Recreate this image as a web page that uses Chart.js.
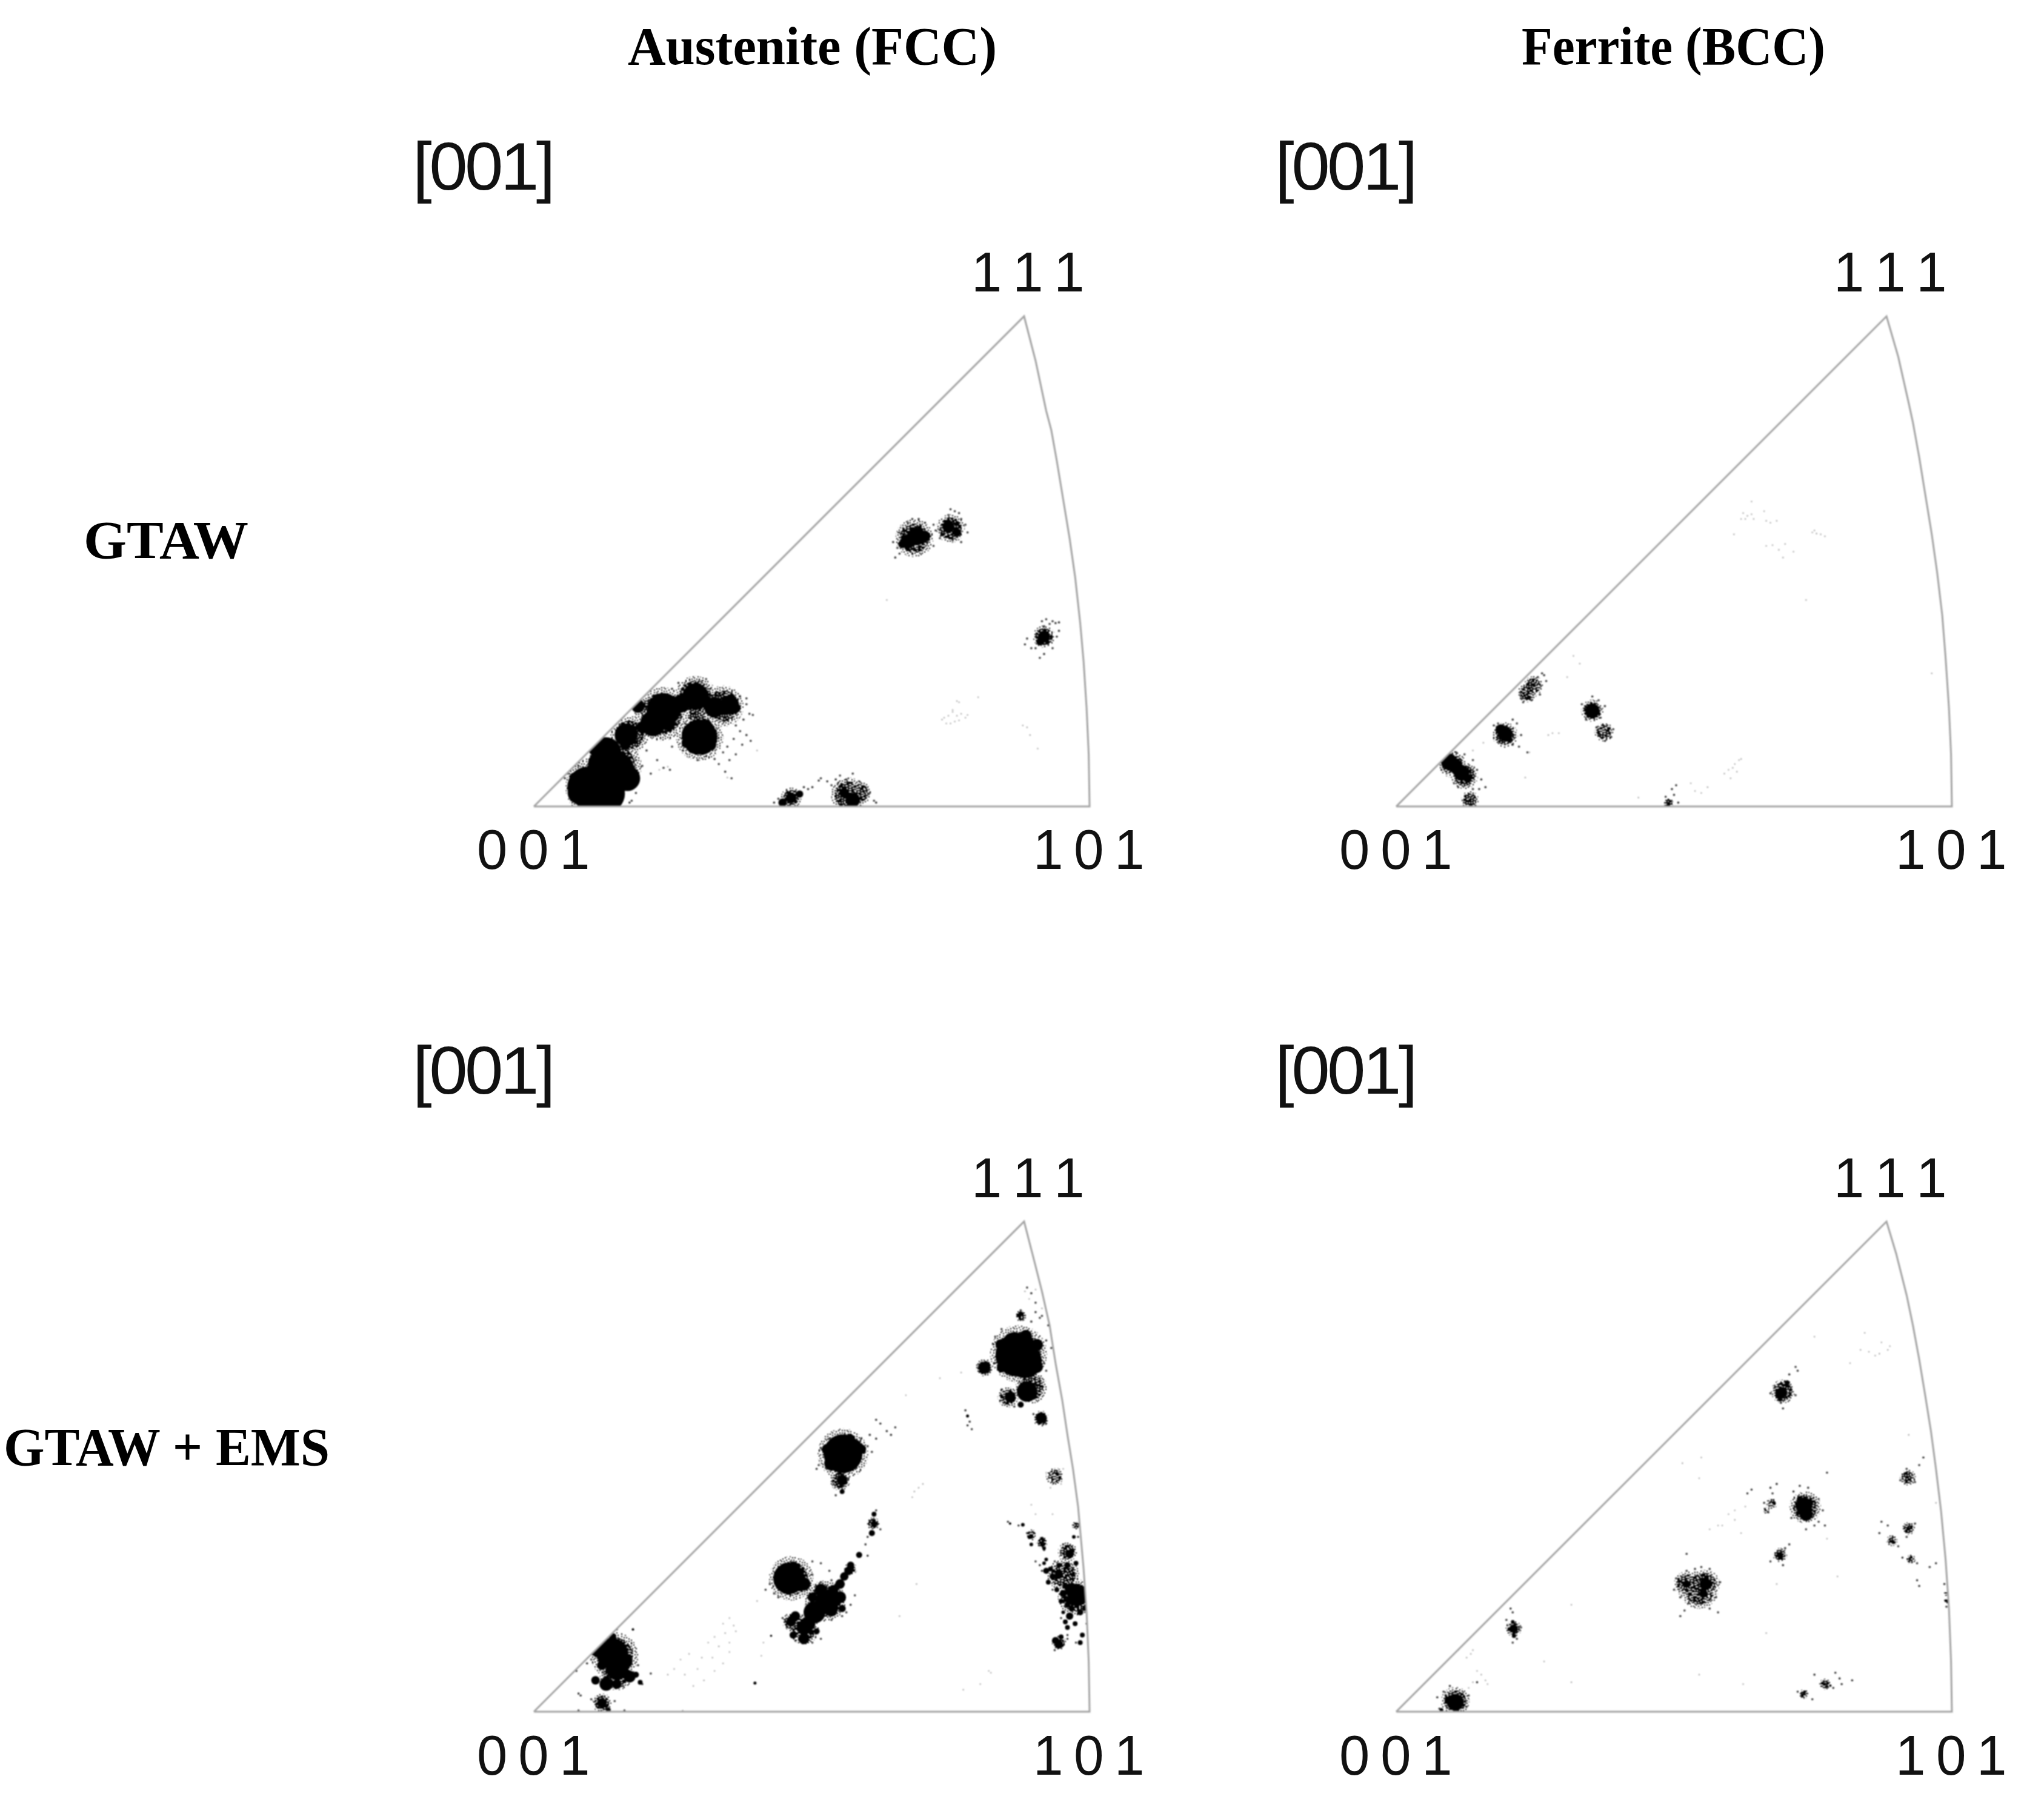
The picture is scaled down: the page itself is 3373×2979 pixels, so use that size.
<!DOCTYPE html>
<html><head><meta charset="utf-8">
<script src="https://cdn.jsdelivr.net/npm/chart.js@4"></script>
<style>
html,body{margin:0;padding:0;background:#fff;width:3373px;height:2979px;overflow:hidden}
canvas{position:absolute;filter:blur(.9px)}
.t{position:absolute;white-space:pre;transform-origin:0 50%;line-height:1;color:#111}
.s{font-family:"Liberation Serif",serif;font-weight:bold;color:#000}
.h{font-family:"Liberation Sans",sans-serif;letter-spacing:-.04em}
</style></head><body>
<script>
const columnTitles=["Austenite (FCC)","Ferrite (BCC)"];
const rowTitles=["GTAW","GTAW + EMS"];
const directionLabel="[001]";
const cornerLabels=["1 1 1","0 0 1","1 0 1"];

// Boundaries of the four inverse pole figures
const tlEdge=[[45,1335],[1352,1335],[1350,1200],[1345,1080],[1338,960],[1330,860],[1318,740],[1305,640],[1290,540],[1275,440],[1262,360],[1250,310],[1225,180],[1198,65],[45,1335]];
const trEdge=[[22,1335],[1348,1335],[1346,1200],[1341,1080],[1333,950],[1325,840],[1313,730],[1300,630],[1285,530],[1270,430],[1255,340],[1245,290],[1220,170],[1192,65],[22,1335]];
const blEdge=[[45,1323],[1352,1323],[1350,1190],[1345,1060],[1338,945],[1325,780],[1313,680],[1300,590],[1288,500],[1272,400],[1258,300],[1240,210],[1222,130],[1198,25],[45,1323]];
const brEdge=[[22,1323],[1348,1323],[1346,1190],[1341,1050],[1333,920],[1322,790],[1310,680],[1298,580],[1285,490],[1270,390],[1255,300],[1240,220],[1215,110],[1192,25],[22,1323]];

// Orientation clusters: [x, y, spread]
const tlCore=[[172,1285,34],[215,1302,31],[150,1300,18],[215,1195,25],[205,1225,23],[240,1240,29],[265,1262,21],[262,1150,19],[290,1075,11],[350,1085,28],[325,1120,21],[375,1075,16],[425,1050,22],[392,1068,15],[470,1078,17],[505,1072,16],[435,1155,29],[415,1145,15],[460,1175,10],[405,1170,9],[450,1125,10],[300,1130,10],[360,1120,12],[260,1175,9],[190,1185,12],[275,1270,10],[140,1260,8],[210,1265,20],[520,1080,8],[450,1060,9],[630,1325,7],[650,1313,9],[670,1303,6],[775,1300,8],[795,1318,12],[925,648,12],[945,635,15],[965,635,9],[912,655,7],[1020,610,10],[1040,625,7],[1005,630,3],[1245,895,10],[1235,908,6]];
const tlHalo=[[190,1285,38],[235,1230,34],[270,1150,24],[345,1095,34],[425,1050,26],[490,1075,26],[435,1155,30],[650,1313,13],[785,1305,22],[810,1300,15],[940,640,24],[1025,615,18],[1245,895,14],[430,1100,14]];
const tlSpeck=[[545,1070],[552,1095],[560,1098],[538,1110],[520,1125],[530,1140],[545,1150],[555,1165],[535,1175],[515,1160],[500,1180],[490,1195],[520,1200],[505,1215],[480,1225],[495,1245],[510,1262],[470,1212],[450,1205],[430,1215],[415,1195],[395,1190],[370,1180],[350,1235],[365,1240],[335,1215],[310,1190],[320,1250],[300,1230],[285,1215],[275,1320],[285,1300],[270,1325],[125,1250],[135,1235],[150,1230],[118,1262],[440,1010],[450,1005],[460,1030],[400,1020],[370,1030],[385,1015],[530,1050],[545,1055],[510,1040],[480,1045],[390,1100],[410,1105],[420,1095],[440,1100],[455,1110],[400,1120],[720,1262],[735,1270],[745,1280],[765,1255],[780,1265],[795,1250],[810,1270],[825,1285],[835,1300],[845,1320],[850,1325],[700,1285],[690,1290],[680,1285],[620,1315],[610,1325],[660,1295],[760,1275],[800,1285],[715,1268],[755,1265],[905,680],[895,690],[900,665],[890,650],[905,625],[925,600],[935,590],[950,590],[965,600],[985,605],[985,660],[960,665],[935,680],[1025,565],[1035,570],[1045,575],[1020,580],[1050,590],[1060,605],[1065,625],[1050,650],[1030,645],[1000,640],[990,620],[1240,855],[1250,850],[1265,855],[1280,858],[1272,860],[1258,862],[1245,868],[1205,900],[1215,925],[1200,915],[1235,950],[1245,940],[1265,925],[1275,895],[1280,880],[1225,925]];
const tlFaint=[[1040,1062],[1045,1065],[1010,1105],[1020,1100],[1030,1090],[1040,1100],[1050,1095],[1060,1105],[1025,1120],[1035,1115],[1015,1120],[1030,1085],[1065,1098],[1195,1125],[1205,1130],[1212,1150],[1090,1052],[875,800],[1005,1110],[1045,1112],[1230,1185],[340,1240],[360,1232],[500,1260],[570,1190]];

const trCore=[[148,1220,13],[163,1230,12],[178,1248,13],[192,1262,7],[272,1136,9],[282,1148,12],[292,1160,5],[490,1087,12],[350,1020,3],[672,1328,3],[198,1320,2]];
const trHalo=[[155,1225,17],[185,1255,17],[198,1318,11],[282,1150,16],[335,1040,12],[350,1022,12],[490,1087,14],[518,1142,12],[672,1326,6]];
const trSpeck=[[150,1190],[165,1195],[185,1200],[205,1215],[130,1240],[215,1240],[225,1265],[220,1290],[170,1285],[205,1290],[160,1275],[235,1285],[310,1120],[300,1175],[315,1180],[255,1125],[265,1120],[320,1150],[335,1195],[300,1110],[370,990],[375,995],[360,1000],[380,1010],[365,1045],[345,1060],[325,1065],[320,1055],[490,1050],[505,1060],[520,1075],[510,1105],[475,1110],[465,1070],[515,1125],[540,1135],[535,1155],[520,1165],[505,1150],[500,1130],[685,1305],[665,1310],[695,1325],[680,1290],[690,1280]];
const trFaint=[[850,575],[860,582],[870,578],[845,590],[855,590],[875,590],[870,545],[900,570],[905,595],[915,600],[930,595],[828,630],[1015,625],[1025,628],[1035,630],[1020,620],[1045,635],[905,660],[920,658],[935,670],[945,690],[950,655],[970,675],[840,1215],[845,1212],[830,1225],[815,1240],[805,1250],[820,1262],[825,1235],[835,1245],[725,1275],[735,1295],[750,1300],[765,1285],[600,1312],[460,965],[445,945],[430,1000],[395,1145],[410,1145],[385,1150],[340,1195],[330,1260],[230,1170],[205,1190],[185,1220],[1300,990],[1000,800],[745,515]];

const blCore=[[1182,378,36],[1200,395,28],[1160,385,20],[1175,350,20],[1142,350,8],[1228,352,10],[1228,410,10],[1145,412,8],[1202,328,10],[1105,412,10],[1205,475,17],[1165,490,9],[1190,510,5],[1238,545,9],[1190,270,4],[1065,540,2.5],[772,640,32],[745,665,12],[770,710,9],[770,740,4],[800,620,11],[735,628,9],[815,628,8],[788,602,9],[845,800,4],[845,825,5],[840,850,5],[810,908,5],[785,950,7],[765,985,8],[790,935,6],[775,965,7],[750,1000,8],[720,1000,10],[700,1020,8],[645,970,26],[680,985,11],[618,975,6],[655,938,8],[735,1030,20],[705,1060,18],[680,1100,12],[680,1130,9],[650,1085,8],[765,1020,10],[660,1070,8],[690,1090,12],[655,1120,6],[710,1110,5],[745,1055,10],[770,1050,6],[230,1170,26],[215,1145,10],[240,1210,18],[215,1250,11],[270,1230,10],[195,1165,9],[295,1245,4],[205,1200,8],[260,1190,12],[285,1225,5],[190,1240,7],[240,1250,8],[230,1125,6],[205,1300,8],[220,1318,4],[1325,1015,17],[1310,1000,11],[1305,905,7],[1280,960,7],[1305,1070,6],[1280,1145,7],[1300,1100,4],[1335,1120,4],[1240,880,3],[1215,860,3],[1195,828,3],[1165,825,2],[1260,945,4],[1250,920,3],[1285,1030,4],[1300,1040,5],[1295,990,5],[1340,1050,4],[1250,950,5],[1265,965,5],[1245,930,3],[1275,1000,4],[1290,1010,6],[1280,935,4],[1300,935,5],[1310,1050,5],[1318,1090,4],[1295,1085,4],[1272,1135,6],[1285,1125,4],[1330,1140,4],[1210,860,3],[1215,880,3],[1240,865,3],[1245,890,3],[1320,930,4],[1315,860,3],[1290,1060,3],[1305,1025,6],[1330,1060,5],[1255,980,4],[565,1247,2.5],[603,1122,1.8],[278,1105,2]];
const blHalo=[[1185,375,36],[1215,465,20],[1160,490,13],[1238,547,10],[1190,275,7],[1105,412,11],[772,640,32],[765,710,13],[843,825,8],[790,945,8],[650,970,28],[730,1030,26],[680,1105,19],[650,1085,11],[235,1175,30],[240,1220,22],[205,1300,12],[1320,1020,23],[1290,960,20],[1300,900,12],[1280,1140,9],[1240,875,7],[1270,700,11],[1320,830,5],[1215,855,7]];
const blSpeck=[[1190,260],[1195,285],[1215,290],[1225,265],[1235,280],[1255,300],[1250,340],[1262,360],[1130,330],[1125,350],[1130,400],[1145,310],[1245,400],[1250,420],[1235,440],[1145,470],[1150,505],[1175,515],[1225,455],[1215,215],[1225,240],[1240,275],[1205,200],[1220,535],[1250,560],[1060,525],[1070,555],[1075,575],[1065,565],[835,590],[850,600],[860,560],[875,580],[850,550],[885,590],[895,570],[830,620],[710,680],[720,625],[740,600],[790,590],[815,600],[840,635],[755,750],[785,705],[715,670],[850,790],[860,840],[830,860],[825,880],[830,910],[790,930],[700,925],[720,930],[740,950],[700,960],[720,980],[745,975],[600,985],[590,1000],[610,1010],[620,1020],[640,1010],[780,1060],[790,1040],[770,1070],[745,1080],[720,1130],[700,1140],[660,1135],[630,1075],[640,1100],[655,1115],[800,1015],[240,1105],[245,1130],[275,1160],[290,1200],[320,1222],[300,1250],[180,1185],[170,1195],[185,1245],[255,1255],[150,1275],[155,1280],[150,1320],[180,1290],[235,1295],[258,1320],[145,1215],[1160,820],[1185,830],[1205,850],[1215,880],[1245,895],[1225,925],[1235,935],[1270,925],[1290,880],[1320,825],[1325,860],[1270,985],[1265,1000],[1240,950],[1300,1130],[1270,1160],[1320,1140],[1345,1090],[1300,1120],[1285,1075]];
const blFaint=[[1200,210],[1210,230],[1225,205],[1240,255],[505,1075],[515,1095],[490,1090],[495,1115],[470,1125],[480,1150],[455,1140],[520,1110],[505,1140],[440,1180],[465,1180],[490,1195],[430,1210],[410,1170],[390,1185],[375,1210],[360,1225],[400,1225],[445,1240],[470,1215],[420,1255],[505,1165],[395,1320],[580,1175],[585,1140],[570,1030],[1120,1220],[1115,1215],[1095,1250],[1055,1265],[905,1070],[940,740],[950,730],[935,755],[960,720],[920,485],[1000,440],[1050,425],[1225,800],[1215,775],[1265,800],[150,1275],[1270,680],[1290,680],[1250,690],[1285,720],[1260,730],[945,985]];

const brCore=[[163,1298,14],[145,1292,5],[130,1318,3],[302,1103,7],[300,1085,3],[303,1122,3.5],[942,478,9],[955,452,4],[938,495,4],[995,778,14],[1000,800,11],[985,760,5],[938,908,5],[760,985,10],[755,1010,7],[715,985,6],[1205,872,2.5],[1245,838,2.5],[1045,1250,2.5],[1058,1254,2],[995,1276,2.5],[1248,917,2]];
const brHalo=[[163,1295,18],[302,1103,10],[945,475,15],[998,782,20],[918,772,7],[905,790,4],[938,908,9],[715,985,16],[760,985,18],[755,1010,16],[745,1000,24],[1243,703,10],[1245,838,8],[1205,870,7],[1250,920,6],[1045,1250,7],[995,1276,6],[1335,1010,3],[1335,1030,3]];
const brSpeck=[[150,1255],[135,1270],[120,1285],[195,1280],[190,1310],[125,1315],[215,1245],[295,1050],[300,1060],[285,1080],[320,1100],[300,1140],[310,1130],[975,410],[980,420],[960,430],[925,460],[915,480],[975,485],[940,505],[945,520],[985,725],[1005,730],[970,740],[1030,760],[1040,790],[1020,830],[1000,840],[965,810],[1030,820],[1050,690],[1045,830],[915,730],[920,745],[900,770],[910,795],[870,735],[860,745],[930,720],[960,880],[950,890],[915,925],[945,935],[715,905],[735,945],[690,970],[685,1000],[700,1020],[720,1035],[710,1055],[700,1070],[770,1050],[790,1060],[785,1020],[795,980],[770,945],[750,940],[715,950],[1240,680],[1270,670],[1280,650],[1225,710],[1260,715],[1180,820],[1175,850],[1195,830],[1220,885],[1260,825],[1240,860],[1265,930],[1230,915],[1265,975],[1270,990],[1330,985],[1335,1045],[1070,1220],[1080,1235],[1085,1250],[1020,1225],[1065,1260],[1015,1290],[980,1270],[1110,1240],[1310,930],[1295,940]];
const brFaint=[[1140,320],[1180,345],[1195,365],[1165,380],[1130,365],[1200,355],[1150,370],[1175,375],[1020,330],[1105,400],[800,830],[815,800],[830,815],[845,850],[790,830],[770,840],[855,780],[830,790],[705,665],[750,650],[745,705],[200,1170],[205,1160],[190,1180],[215,1215],[225,1225],[235,1240],[205,1245],[195,1260],[240,1250],[170,1160],[440,1245],[375,1190],[745,1225],[850,1250],[905,1115],[930,985],[1075,965],[1245,590],[1310,770],[1050,865],[440,1040]];

const panels=[
 {edge:tlEdge,core:tlCore,halo:tlHalo,speck:tlSpeck,faint:tlFaint,px:[881,522],dx:[45,1352],dy:[65,1335]},
 {edge:trEdge,core:trCore,halo:trHalo,speck:trSpeck,faint:trFaint,px:[2304,522],dx:[22,1348],dy:[65,1335]},
 {edge:blEdge,core:blCore,halo:blHalo,speck:blSpeck,faint:blFaint,px:[881,2016],dx:[45,1352],dy:[25,1323]},
 {edge:brEdge,core:brCore,halo:brHalo,speck:brSpeck,faint:brFaint,px:[2304,2016],dx:[22,1348],dy:[25,1323]}
];
const W=917,H=809,M=24;
const triple=(a,k)=>a.map(p=>({x:p[0],y:p[1],r:p[2]*k}));
const pair=a=>a.map(p=>({x:p[0],y:p[1]}));

// Grain used to fill the loose edge of each cluster
const grainRows=[
"#...#..#.....#...#..#...","...#.....#.#.....#....#.",".#....#.......#.#...#...","....#...#.#.......#....#",
"#.#....#....#..#.....#..",".....#.....#.....#.#....","..#.....#.....#......#.#","#....#.....#.#...#.#....",
"...#...#.#.....#.....#..",".#.....#....#.....#....#","....#.....#....#.#...#..","#.#...#.....#.......#...",
"....#...#.#...#..#.....#",".#.....#.....#....#.#...","...#.#....#.....#.....#.","#.......#...#.#...#.#...",
"..#.#.#.....#......#...#",".......#.#.....#.#...#..","#.#.#.......#.....#.....","....#..#.#....#.#...#.#.",
".#........#.......#.....","...#.#..#...#.#.....#..#","#......#..#.....#.#.....","..#.#.......#.#.....#.#."];
function grain(shifts){
 const t=document.createElement('canvas');t.width=t.height=48;t.style.display='none';
 const g=t.getContext('2d');g.fillStyle='#000';
 shifts.forEach(s=>grainRows.forEach((row,j)=>[...row].forEach((c,i)=>{
  if(c==='#')g.fillRect(((i+s[0])%24)*2,((j+s[1])%24)*2,2,2);})));
 return g.createPattern(t,'repeat');
}
const sparseGrain=grain([[0,0]]);
const denseGrain=grain([[0,0],[1,0],[5,3],[11,7],[17,13]]);

const clipToFigure={id:'clipToFigure',
 beforeDatasetDraw(c,args){ if(args.index===0) return;
  const e=c.config.options.plugins.clipToFigure.edge,x=c.scales.x,y=c.scales.y,g=c.ctx;
  g.save();g.beginPath();
  e.forEach((p,i)=>{const a=x.getPixelForValue(p[0]),b=y.getPixelForValue(p[1]);i?g.lineTo(a,b):g.moveTo(a,b);});
  g.closePath();g.clip();},
 afterDatasetDraw(c,args){ if(args.index!==0) c.ctx.restore(); }
};

panels.forEach(p=>{
 const cv=document.createElement('canvas');
 cv.width=W+2*M;cv.height=H+2*M;
 cv.style.left=(p.px[0]-M)+'px';cv.style.top=(p.px[1]-M)+'px';
 cv.style.width=cv.width+'px';cv.style.height=cv.height+'px';
 document.body.appendChild(cv);
 const ux=(p.dx[1]-p.dx[0])/W,uy=(p.dy[1]-p.dy[0])/H;
 new Chart(cv,{type:'bubble',
  data:{datasets:[
   {type:'line',label:'boundary',data:pair(p.edge),borderColor:'#a4a4a4',borderWidth:3,pointRadius:0,tension:0,fill:false,order:0,clip:false},
   {label:'core',data:triple(p.core,1),backgroundColor:'#000',borderWidth:0,order:1},
   {label:'speck',data:pair(p.speck),radius:1.8,backgroundColor:'rgba(0,0,0,.8)',borderWidth:0,order:2},
   {label:'dense',data:triple(p.halo,1),backgroundColor:denseGrain,borderWidth:0,order:3},
   {label:'sparse',data:triple(p.halo,1.3),backgroundColor:sparseGrain,borderWidth:0,order:4},
   {label:'faint',data:pair(p.faint),radius:1.3,backgroundColor:'rgba(0,0,0,.32)',borderWidth:0,order:5}
  ]},
  options:{responsive:false,animation:false,devicePixelRatio:1,
   layout:{padding:0,autoPadding:false},
   plugins:{legend:{display:false},tooltip:{enabled:false},title:{display:false},clipToFigure:{edge:p.edge}},
   scales:{
    x:{type:'linear',display:false,min:p.dx[0]-M*ux,max:p.dx[1]+M*ux},
    y:{type:'linear',display:false,reverse:true,min:p.dy[0]-M*uy,max:p.dy[1]+M*uy}
   }},
  plugins:[clipToFigure]});
});

function put(text,cls,left,right,cy,size){
 const d=document.createElement('div');
 d.className='t '+cls;d.textContent=text;d.style.fontSize=size+'px';
 document.body.appendChild(d);
 const w=d.getBoundingClientRect().width;
 d.style.left=left+'px';d.style.top=(cy-size/2)+'px';
 d.style.transform='scaleX('+((right-left)/w)+')';
}
put(columnTitles[0],'s',1036,1645,77,88);
put(columnTitles[1],'s',2511,3012,77,88);
put(rowTitles[0],'s',138,410,892,88);
put(rowTitles[1],'s',6,544,2389,88);
[[0,275],[1423,275],[0,1767],[1423,1767]].forEach(o=>put(directionLabel,'h',681+o[0],912+o[0],o[1],112));
[[0,0],[1423,0],[0,1495],[1423,1495]].forEach(o=>{
 put(cornerLabels[0],'h',1603+o[0],1786+o[0],449+o[1],92);
 put(cornerLabels[1],'h',787+o[0],970+o[0],1402+o[1],92);
 put(cornerLabels[2],'h',1705+o[0],1885+o[0],1402+o[1],92);
});
</script>
</body></html>
